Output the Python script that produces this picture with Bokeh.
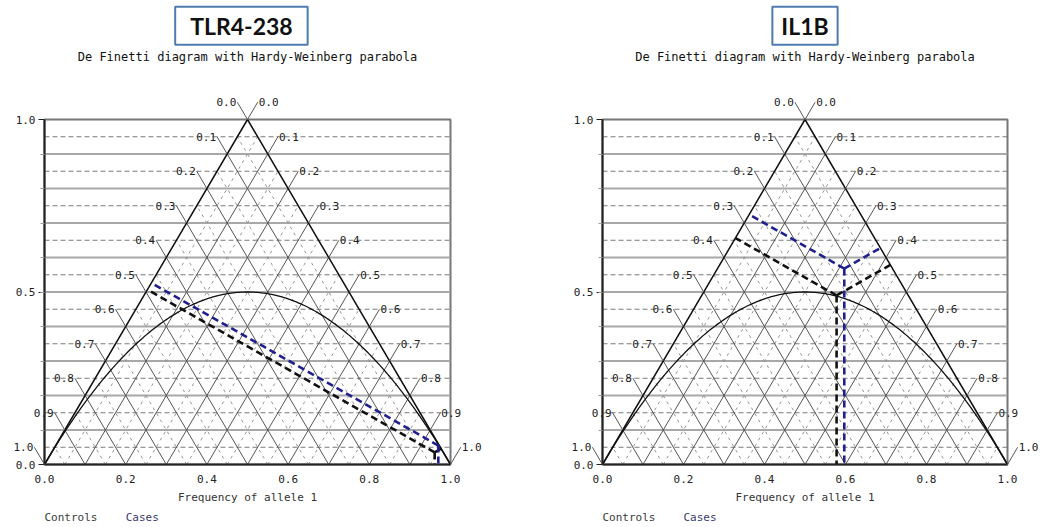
import numpy as np
from bokeh.plotting import figure
from bokeh.models import ColumnDataSource, Range1d, FixedTicker, PrintfTickFormatter
from bokeh.layouts import row
from bokeh.embed import file_html
from bokeh.resources import INLINE
from bokeh.core.properties import value

# ---------------- data ----------------
panel_names = ["TLR4-238", "IL1B"]
subtitle = "De Finetti diagram with Hardy-Weinberg parabola"
x_label = "Frequency of allele 1"
series_names = ["Controls", "Cases"]
# frequency of allele 1 (x) and heterozygote frequency (height) per panel
controls_allele1 = [0.961, 0.578]
controls_het = [0.035, 0.490]
cases_allele1 = [0.970, 0.597]
cases_het = [0.055, 0.568]

x_ticks = [0.0, 0.2, 0.4, 0.6, 0.8, 1.0]
y_ticks = [0.0, 0.5, 1.0]
grid_major = [0.1, 0.2, 0.3, 0.4, 0.5, 0.6, 0.7, 0.8, 0.9]
grid_minor = [0.05, 0.15, 0.25, 0.35, 0.45, 0.55, 0.65, 0.75, 0.85, 0.95]
edge_levels = [0.0, 0.1, 0.2, 0.3, 0.4, 0.5, 0.6, 0.7, 0.8, 0.9, 1.0]
edge_labels = ["1.0", "0.9", "0.8", "0.7", "0.6", "0.5", "0.4", "0.3", "0.2", "0.1", "0.0"]

CONTROL_COLOR = "#111111"
CASE_COLOR = "#1f1f8f"
MONO = "DejaVu Sans Mono"


def feet(x, h):
    """Feet of the perpendiculars from a point to the three triangle sides."""
    t_left = 0.5 * x + 0.75 * h
    t_right = -0.5 * (x - 1.0) + 0.75 * h
    return [(0.5 * t_left, t_left), (1.0 - 0.5 * t_right, t_right), (x, 0.0)]


def make_panel(i, width, b_left, b_right, box_x, box_pad):
    p = figure(width=width, height=527, x_range=Range1d(0, 1), y_range=Range1d(0, 1),
               output_backend="svg", toolbar_location=None,
               min_border_left=b_left, min_border_right=b_right,
               min_border_top=119, min_border_bottom=63,
               x_axis_label=x_label)
    p.xgrid.visible = False
    p.ygrid.visible = False
    p.outline_line_color = "#777777"
    p.outline_line_width = 2
    p.background_fill_color = "white"

    # axes
    p.xaxis.ticker = FixedTicker(ticks=x_ticks)
    p.yaxis.ticker = FixedTicker(ticks=y_ticks, minor_ticks=grid_major)
    for ax in (p.xaxis[0], p.yaxis[0]):
        ax.formatter = PrintfTickFormatter(format="%.1f")
        ax.axis_line_width = 2
        ax.axis_line_color = "#222222"
        ax.major_label_text_font = MONO
        ax.major_label_text_font_size = "11px"
        ax.major_label_text_color = "#222222"
        ax.major_tick_in = 0
        ax.minor_tick_in = 0
    p.xaxis.major_tick_out = 0
    p.xaxis.minor_tick_out = 0
    p.xaxis.major_label_standoff = 10
    p.xaxis.axis_label_standoff = 5
    p.xaxis.axis_label_text_font = MONO
    p.xaxis.axis_label_text_font_size = "11px"
    p.xaxis.axis_label_text_font_style = "normal"
    p.xaxis.axis_label_text_color = "#333333"
    p.yaxis.major_tick_out = 6
    p.yaxis.major_tick_line_color = "#222222"
    p.yaxis.minor_tick_out = 4
    p.yaxis.minor_tick_line_color = "#999999"
    p.yaxis.major_label_standoff = 3

    # horizontal reference lines
    p.segment(x0=[0.0] * len(grid_major), y0=grid_major, x1=[1.0] * len(grid_major), y1=grid_major,
              line_color="#a8a8a8", line_width=2)
    p.segment(x0=[0.0] * len(grid_minor), y0=grid_minor, x1=[1.0] * len(grid_minor), y1=grid_minor,
              line_color="#7a7a7a", line_width=1, line_dash="5 3")

    # interior triangular grid
    def diag(levels):
        x0, y0, x1, y1 = [], [], [], []
        for c in levels:
            x0 += [c, c]
            y0 += [0.0, 0.0]
            x1 += [(1 + c) / 2, c / 2]
            y1 += [1 - c, c]
        return x0, y0, x1, y1
    mx0, my0, mx1, my1 = diag(grid_minor)
    p.segment(x0=mx0, y0=my0, x1=mx1, y1=my1, line_color="#959595", line_width=1, line_dash="3 4")
    gx0, gy0, gx1, gy1 = diag(grid_major)
    p.segment(x0=gx0, y0=gy0, x1=gx1, y1=gy1, line_color="#555555", line_width=1)

    # triangle
    p.line(x=[0.0, 0.5, 1.0], y=[0.0, 1.0, 0.0], line_color="#111111", line_width=1.5)

    # Hardy-Weinberg parabola
    q = np.linspace(0, 1, 201)
    p.line(x=q, y=2 * q * (1 - q), line_color="#111111", line_width=1.3)

    # edge ticks and labels (overlay level so they may reach outside the frame)
    lx0 = [h / 2 for h in edge_levels]
    lx1 = [h / 2 - 0.025 for h in edge_levels]
    rx0 = [1 - h / 2 for h in edge_levels]
    rx1 = [1 - h / 2 + 0.025 for h in edge_levels]
    ty = [h + 0.05 for h in edge_levels]
    tick_src = ColumnDataSource(dict(x0=lx0 + rx0, y0=edge_levels + edge_levels,
                                     x1=lx1 + rx1, y1=ty + ty))
    p.segment(x0="x0", y0="y0", x1="x1", y1="y1", source=tick_src,
              line_color="#555555", line_width=1, level="overlay")
    left_src = ColumnDataSource(dict(x=lx1, y=ty, t=edge_labels))
    right_src = ColumnDataSource(dict(x=rx1, y=ty, t=edge_labels))
    p.text(x="x", y="y", text="t", source=left_src, x_offset=-1,
           text_align="right", text_baseline="alphabetic",
           text_font=value(MONO), text_font_size="11px", text_color="#222222", level="overlay")
    p.text(x="x", y="y", text="t", source=right_src, x_offset=1,
           text_align="left", text_baseline="alphabetic",
           text_font=value(MONO), text_font_size="11px", text_color="#222222", level="overlay")

    # sample points: perpendiculars to the three sides
    for ax1, het, col in ((controls_allele1, controls_het, CONTROL_COLOR),
                          (cases_allele1, cases_het, CASE_COLOR)):
        x, h = ax1[i], het[i]
        f = feet(x, h)
        p.segment(x0=[x] * 3, y0=[h] * 3, x1=[a for a, b in f], y1=[b for a, b in f],
                  line_color=col, line_width=2.6, line_dash="7 4")

    # subtitle
    p.text(x=[0.5], y=[1.18], text=[subtitle], text_align="center", text_baseline="middle",
           text_font=value(MONO), text_font_size="12px", text_color="#111111", level="overlay")

    # panel name box
    p.text(x=[box_x], y=[1.272], text=[panel_names[i]], text_align="center",
           text_baseline="middle", text_font=value("Lato"), text_font_size="23px",
           text_font_style="bold", text_color="#111111",
           border_line_color="#4f7bb0", border_line_width=2,
           background_fill_color="white", padding=(box_pad, 5), level="overlay")

    # legend texts
    p.text(x=[0.0, 0.2], y=[-0.154, -0.154], text=series_names, text_align="left",
           text_baseline="middle", text_font=value(MONO), text_font_size="11px",
           text_color=["#3a3a3a", "#3a3a6e"], level="overlay")
    return p


p1 = make_panel(0, 565, 44, 115, 0.485, 15)
p2 = make_panel(1, 478, 37, 36, 0.50, 9)
layout = row(p1, p2)

open("out.html", "w").write(file_html(layout, INLINE))
